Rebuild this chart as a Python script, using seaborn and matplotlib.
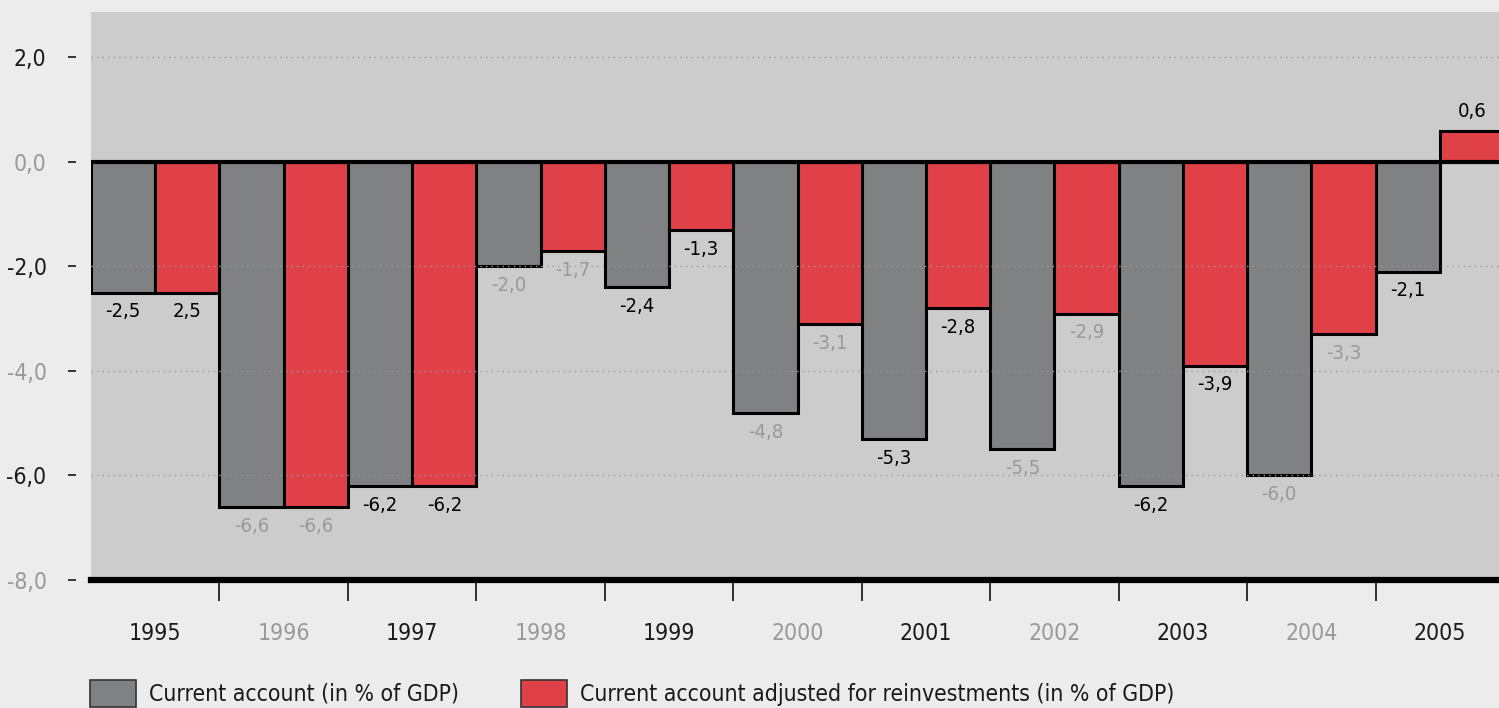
import numpy as np
import pandas as pd
import seaborn as sns
import matplotlib.pyplot as plt
from matplotlib.patches import Patch

# data
years = ["1995", "1996", "1997", "1998", "1999", "2000",
         "2001", "2002", "2003", "2004", "2005"]
current_account = [-2.5, -6.6, -6.2, -2.0, -2.4, -4.8, -5.3, -5.5, -6.2, -6.0, -2.1]
adjusted = [-2.5, -6.6, -6.2, -1.7, -1.3, -3.1, -2.8, -2.9, -3.9, -3.3, 0.6]
adjusted_labels = ["2,5", "-6,6", "-6,2", "-1,7", "-1,3", "-3,1",
                   "-2,8", "-2,9", "-3,9", "-3,3", "0,6"]
series_names = ["Current account (in % of GDP)",
                "Current account adjusted for reinvestments (in % of GDP)"]
yticks = [2, 0, -2, -4, -6, -8]

GREY_BAR = "#808183"
RED_BAR = "#e04148"
PLOT_BG = "#cccccc"
FIG_BG = "#ececec"
TXT_GREY = "#999999"

df = pd.DataFrame({
    "year": years * 2,
    "series": [series_names[0]] * len(years) + [series_names[1]] * len(years),
    "value": current_account + adjusted,
})

sns.set_theme(style="white")
plt.rcParams["font.family"] = ["DejaVu Sans"]
plt.rcParams["font.stretch"] = "condensed"

fig = plt.figure(figsize=(14.99, 7.08), dpi=100, facecolor=FIG_BG)
ax = fig.add_axes([91 / 1499, 1 - 580 / 708, 1413 / 1499, 568 / 708])
ax.set_facecolor(PLOT_BG)

sns.barplot(data=df, x="year", y="value", hue="series", ax=ax,
            palette=[GREY_BAR, RED_BAR], saturation=1, width=1.0, gap=0,
            edgecolor="black", linewidth=2.2, legend=False, zorder=2)

ax.set_xlim(-0.5, len(years) - 0.5)
ax.set_ylim(-8, 2.87)

for s in ["top", "right", "left"]:
    ax.spines[s].set_visible(False)
ax.spines["left"].set_position(("outward", 11))
ax.spines["bottom"].set_color("black")
ax.spines["bottom"].set_linewidth(4.5)
ax.spines["bottom"].set_zorder(5)

# dotted grid drawn over the bars
ax.set_axisbelow(False)
ax.yaxis.grid(True, linestyle=(0, (1, 3)), color="#9a9a9a", linewidth=1.0)
ax.xaxis.grid(False)
ax.axhline(0, color="black", linewidth=3, zorder=4)

# value labels, alternating black / grey per year
lab_colors = ["black" if i % 2 == 0 else TXT_GREY for i in range(len(years))]
labels_ca = [f"{v:.1f}".replace(".", ",") for v in current_account]
for cont, labs in zip(ax.containers, [labels_ca, adjusted_labels]):
    texts = ax.bar_label(cont, labels=labs, padding=7, fontsize=14.5)
    for t, c in zip(texts, lab_colors):
        t.set_color(c)

# y axis: labels with dash ticks set away from the plot
ax.set_yticks(yticks)
ax.set_yticklabels([f"{v:.1f}".replace(".", ",") for v in yticks])
ax.tick_params(axis="y", left=True, length=6, width=1.3, pad=15, labelsize=16.5)
for i, (tk, lbl) in enumerate(zip(ax.yaxis.get_major_ticks(), ax.get_yticklabels())):
    c = "#1a1a1a" if i % 2 == 0 else TXT_GREY
    tk.tick1line.set_color(c)
    lbl.set_color(c)

# x axis: year labels, separators between groups
ax.set_xlabel("")
ax.set_ylabel("")
ax.set_xticks(range(len(years)))
ax.set_xticklabels(years)
ax.set_xticks(np.arange(0.5, len(years) - 0.5, 1), minor=True)
ax.tick_params(axis="x", which="major", length=0, pad=30, labelsize=16.5)
ax.tick_params(axis="x", which="minor", bottom=True, length=15, width=1.3,
               color="#222222", direction="out")
for i, lbl in enumerate(ax.get_xticklabels()):
    lbl.set_color("#1a1a1a" if i % 2 == 0 else TXT_GREY)

handles = [Patch(facecolor=GREY_BAR, edgecolor="#333333", linewidth=1.2),
           Patch(facecolor=RED_BAR, edgecolor="#333333", linewidth=1.2)]
fig.legend(handles, series_names, loc="lower left",
           bbox_to_anchor=(91 / 1499 - 0.0005, 0.002), ncol=2, frameon=False,
           fontsize=16.5, handlelength=2.0, handleheight=1.4,
           handletextpad=0.57, columnspacing=2.7, borderpad=0, borderaxespad=0,
           labelcolor="#1a1a1a")

fig.savefig("out.png", dpi=100, facecolor=FIG_BG)
